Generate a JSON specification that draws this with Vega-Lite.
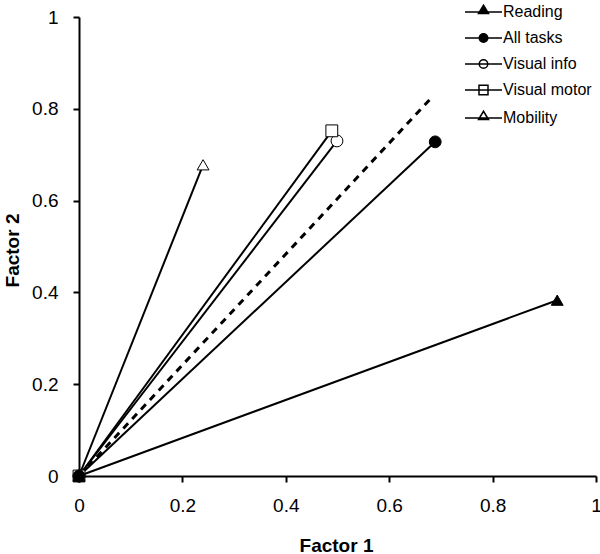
{
  "$schema": "https://vega.github.io/schema/vega-lite/v6.json",
  "width": 517,
  "height": 459,
  "autosize": {"type": "none"},
  "padding": {"left": 79, "top": 17, "right": 4, "bottom": 78},
  "background": "white",
  "config": {
    "view": {"stroke": null},
    "font": "Liberation Sans",
    "axis": {
      "grid": false,
      "domainColor": "black",
      "domainWidth": 2,
      "tickColor": "black",
      "tickWidth": 2,
      "tickSize": 6,
      "labelColor": "black",
      "labelFont": "Liberation Sans",
      "labelFontSize": 19,
      "labelFlush": false,
      "titleFont": "Liberation Sans",
      "titleFontSize": 19,
      "titleFontWeight": "bold",
      "titleColor": "black"
    }
  },
  "data": {
    "values": [
      {"series": "Visual info", "x": 0, "y": 0},
      {"series": "Visual info", "x": 0.499, "y": 0.730},
      {"series": "Visual motor", "x": 0, "y": 0},
      {"series": "Visual motor", "x": 0.489, "y": 0.752},
      {"series": "Mobility", "x": 0, "y": 0},
      {"series": "Mobility", "x": 0.240, "y": 0.678},
      {"series": "Reading", "x": 0, "y": 0},
      {"series": "Reading", "x": 0.925, "y": 0.383},
      {"series": "All tasks", "x": 0, "y": 0},
      {"series": "All tasks", "x": 0.689, "y": 0.728},
      {"series": "Reference", "x": 0, "y": 0},
      {"series": "Reference", "x": 0.685, "y": 0.828}
    ]
  },
  "encoding": {
    "x": {
      "field": "x",
      "type": "quantitative",
      "scale": {"domain": [0, 1], "nice": false, "zero": false},
      "axis": {
        "title": "Factor 1",
        "values": [0, 0.2, 0.4, 0.6, 0.8, 1],
        "format": ".1~f",
        "labelPadding": 14,
        "titleX": 257,
        "titleY": 75,
        "titleBaseline": "alphabetic",
        "titleAnchor": null
      }
    },
    "y": {
      "field": "y",
      "type": "quantitative",
      "scale": {"domain": [0, 1], "nice": false, "zero": false},
      "axis": {
        "title": "Factor 2",
        "values": [0, 0.2, 0.4, 0.6, 0.8, 1],
        "format": ".1~f",
        "labelPadding": 15,
        "titleX": -67,
        "titleY": 233,
        "titleAngle": 270,
        "titleAlign": "center",
        "titleBaseline": "middle",
        "titleAnchor": null
      }
    }
  },
  "layer": [
    {
      "transform": [{"filter": "datum.series !== 'Reference'"}],
      "mark": {"type": "line", "color": "black", "strokeWidth": 2},
      "encoding": {"detail": {"field": "series"}}
    },
    {
      "transform": [{"filter": "datum.series === 'Reference'"}],
      "mark": {"type": "line", "color": "black", "strokeWidth": 3, "strokeDash": [7, 6]},
      "encoding": {}
    },
    {
      "transform": [{"filter": "datum.series !== 'Reference'"}],
      "mark": {"type": "point", "filled": true, "stroke": "black", "strokeWidth": 1, "size": 140, "opacity": 1},
      "encoding": {
        "shape": {
          "field": "series",
          "scale": {
            "domain": ["Reading", "All tasks", "Visual info", "Visual motor", "Mobility"],
            "range": ["triangle-up", "circle", "circle", "square", "triangle-up"]
          },
          "legend": null
        },
        "fill": {
          "field": "series",
          "scale": {
            "domain": ["Reading", "All tasks", "Visual info", "Visual motor", "Mobility"],
            "range": ["black", "black", "white", "white", "white"]
          },
          "legend": null
        }
      }
    },
    {
      "transform": [{"filter": "false"}],
      "mark": {"type": "point", "filled": true, "stroke": "black", "strokeWidth": 1.3, "opacity": 1},
      "encoding": {
        "shape": {
          "field": "series",
          "scale": {
            "domain": ["Reading", "All tasks", "Visual info", "Visual motor", "Mobility"],
            "range": [
              "M-3.7,0H3.7M0,-1.35L1,0.3H-1Z",
              "M-3.7,0H3.7M-0.85,0A0.85,0.85,0,1,0,0.85,0A0.85,0.85,0,1,0,-0.85,0Z",
              "M-3.7,0H3.7M-0.85,0A0.85,0.85,0,1,0,0.85,0A0.85,0.85,0,1,0,-0.85,0Z",
              "M-3.7,0H3.7M-0.9,-0.95H0.9V0.95H-0.9Z",
              "M-3.7,0H3.7M0,-1.35L1,0.3H-1Z"
            ]
          },
          "legend": {
            "title": null,
            "orient": "none",
            "legendX": 396.5,
            "legendY": -13,
            "padding": 0,
            "symbolSize": 100,
            "labelFontSize": 16,
            "labelFont": "Liberation Sans",
            "labelColor": "black",
            "labelOffset": 11.5,
            "rowPadding": 10,
            "encode": {"symbols": {"update": {"stroke": {"value": "black"}, "strokeWidth": {"value": 1.5}}}}
          }
        },
        "fill": {
          "field": "series",
          "scale": {
            "domain": ["Reading", "All tasks", "Visual info", "Visual motor", "Mobility"],
            "range": ["black", "black", "white", "white", "white"]
          },
          "legend": {
            "title": null,
            "orient": "none",
            "legendX": 396.5,
            "legendY": -13,
            "padding": 0,
            "symbolSize": 100,
            "labelFontSize": 16,
            "labelFont": "Liberation Sans",
            "labelColor": "black",
            "labelOffset": 11.5,
            "rowPadding": 10,
            "encode": {"symbols": {"update": {"stroke": {"value": "black"}, "strokeWidth": {"value": 1.5}}}}
          }
        }
      }
    }
  ],
  "resolve": {"scale": {"shape": "independent", "fill": "independent"}}
}
